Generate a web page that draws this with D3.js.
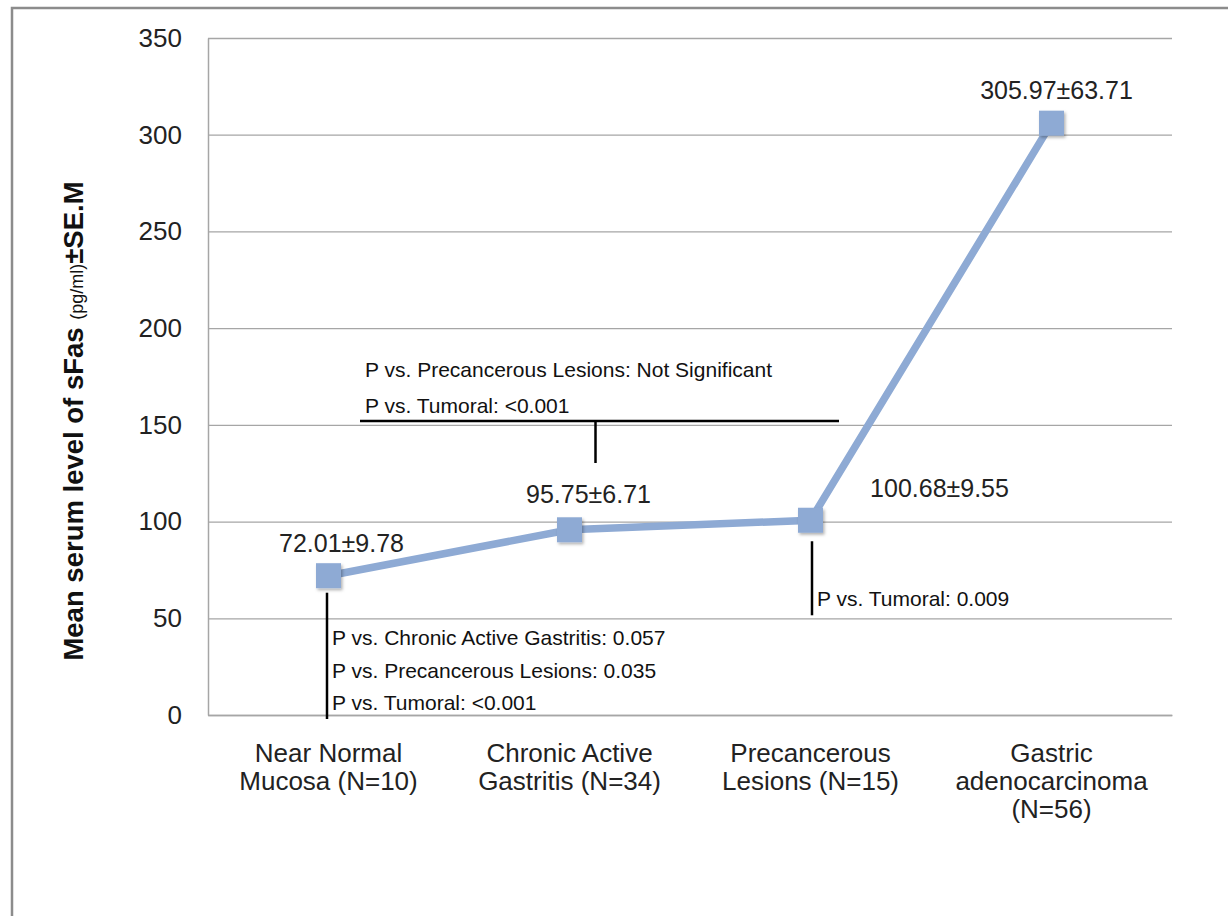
<!DOCTYPE html>
<html>
<head>
<meta charset="utf-8">
<script src="https://cdn.jsdelivr.net/npm/d3@7"></script>
<style>
  body { margin: 0; background: #fff; }
  svg { display: block; font-family: "Liberation Sans", Arial, sans-serif; }
</style>
</head>
<body>
<div id="chart"></div>
<script>
// data
const categories = [
  ["Near Normal", "Mucosa (N=10)"],
  ["Chronic Active", "Gastritis (N=34)"],
  ["Precancerous", "Lesions (N=15)"],
  ["Gastric", "adenocarcinoma", "(N=56)"]
];
const means = [72.01, 95.75, 100.68, 305.97];
const sems = [9.78, 6.71, 9.55, 63.71];
const yTickValues = [0, 50, 100, 150, 200, 250, 300, 350];

const normalNotes = [
  "P vs. Chronic Active Gastritis: 0.057",
  "P vs. Precancerous Lesions: 0.035",
  "P vs. Tumoral: <0.001"
];
const gastritisNotes = [
  "P vs. Precancerous Lesions: Not Significant",
  "P vs. Tumoral: <0.001"
];
const precancerNotes = ["P vs. Tumoral: 0.009"];

const W = 1228, H = 916;
const margin = { top: 38, right: 56, bottom: 201, left: 208 };
const width = W - margin.left - margin.right;
const height = H - margin.top - margin.bottom;
const lineColor = "#8eaad4";
const fontFamily = "'Liberation Sans', Arial, sans-serif";

const svg = d3.select("#chart").append("svg")
  .attr("width", W)
  .attr("height", H);

// outer frame
svg.append("rect")
  .attr("x", 12).attr("y", 8)
  .attr("width", W + 20).attr("height", H + 20)
  .attr("fill", "none")
  .attr("stroke", "#8c8c8c")
  .attr("stroke-width", 2.5);

const defs = svg.append("defs");
const shadow = defs.append("filter").attr("id", "shadow")
  .attr("x", "-30%").attr("y", "-30%").attr("width", "170%").attr("height", "170%");
shadow.append("feDropShadow")
  .attr("dx", 1.5).attr("dy", 2).attr("stdDeviation", 1.5)
  .attr("flood-color", "#000").attr("flood-opacity", 0.3);

const chart = svg.append("g")
  .attr("transform", `translate(${margin.left}, ${margin.top})`);

const xScale = d3.scaleBand()
  .domain(d3.range(categories.length))
  .range([0, width]);
const yScale = d3.scaleLinear()
  .domain([0, 350])
  .range([height, 0]);

// gridlines
chart.append("g")
  .attr("class", "grid")
  .call(d3.axisLeft(yScale).tickValues(yTickValues).tickSize(-width).tickFormat(""))
  .call(g => g.select(".domain").remove())
  .call(g => g.selectAll("line").attr("stroke", "#a6a6a6").attr("stroke-width", 1.3));

// y axis
chart.append("g")
  .attr("class", "axis-y")
  .call(d3.axisLeft(yScale).tickValues(yTickValues).tickSize(0).tickPadding(26).tickFormat(d3.format("d")))
  .call(g => g.select(".domain").attr("stroke", "#a6a6a6").attr("stroke-width", 1.5))
  .call(g => g.selectAll("text").attr("font-size", 26).attr("fill", "#222")
    .attr("font-family", fontFamily));

// x axis
const xAxis = chart.append("g")
  .attr("class", "axis-x")
  .attr("transform", `translate(0, ${height})`)
  .call(d3.axisBottom(xScale).tickSize(0).tickFormat(""))
  .call(g => g.select(".domain").attr("stroke", "#a6a6a6").attr("stroke-width", 1.5));

xAxis.selectAll(".tick").each(function(i) {
  const t = d3.select(this).append("text")
    .attr("text-anchor", "middle")
    .attr("font-size", 26)
    .attr("fill", "#222")
    .attr("font-family", fontFamily);
  categories[i].forEach((line, k) => {
    t.append("tspan").attr("x", 0).attr("y", 47 + k * 28).text(line);
  });
});

// y axis label
const yLabel = svg.append("text")
  .attr("transform", `translate(83, 421) rotate(-90)`)
  .attr("text-anchor", "middle")
  .attr("font-size", 27.5)
  .attr("font-weight", "bold")
  .attr("fill", "#111");
yLabel.append("tspan").text("Mean serum level of sFas ");
yLabel.append("tspan").attr("font-size", 18).attr("font-weight", "normal").text("(pg/ml)");
yLabel.append("tspan").text("±SE.M");

// series line
const cx = i => xScale(i) + xScale.bandwidth() / 2;
const line = d3.line()
  .x((d, i) => cx(i))
  .y(d => yScale(d));

chart.append("path")
  .datum(means)
  .attr("fill", "none")
  .attr("stroke", lineColor)
  .attr("stroke-width", 7.5)
  .attr("d", line);

const markerSize = 25;
chart.selectAll(".marker")
  .data(means)
  .enter()
  .append("rect")
  .attr("class", "marker")
  .attr("x", (d, i) => cx(i) - markerSize / 2)
  .attr("y", d => yScale(d) - markerSize / 2)
  .attr("width", markerSize)
  .attr("height", markerSize)
  .attr("fill", lineColor)
  .attr("filter", "url(#shadow)");

// value labels
const labelOffsets = [[13, -24], [19, -27], [129, -23], [5, -24]];
chart.selectAll(".value-label")
  .data(means)
  .enter()
  .append("text")
  .attr("class", "value-label")
  .attr("text-anchor", "middle")
  .attr("font-size", 25)
  .attr("fill", "#222")
  .attr("x", (d, i) => cx(i) + labelOffsets[i][0])
  .attr("y", (d, i) => yScale(d) + labelOffsets[i][1])
  .text((d, i) => `${d.toFixed(2)}±${sems[i].toFixed(2)}`);

// significance annotations
const notesG = chart.append("g")
  .attr("font-size", 21)
  .attr("fill", "#111");

// near normal
const x0 = cx(0) - 1.5;
notesG.append("line")
  .attr("x1", x0).attr("x2", x0)
  .attr("y1", yScale(means[0]) + 17).attr("y2", height + 4)
  .attr("stroke", "#000").attr("stroke-width", 2.5);
normalNotes.forEach((s, k) => {
  notesG.append("text")
    .attr("x", x0 + 5)
    .attr("y", yScale(0) - 70 + k * 32.5)
    .text(s);
});

// chronic gastritis bracket
const yBracket = yScale(152);
notesG.append("line")
  .attr("x1", xScale(0) + 152).attr("x2", xScale(2) + 149)
  .attr("y1", yBracket).attr("y2", yBracket)
  .attr("stroke", "#000").attr("stroke-width", 2.5);
notesG.append("line")
  .attr("x1", cx(1) + 26).attr("x2", cx(1) + 26)
  .attr("y1", yBracket).attr("y2", yBracket + 42)
  .attr("stroke", "#000").attr("stroke-width", 2.5);
gastritisNotes.forEach((s, k) => {
  notesG.append("text")
    .attr("x", xScale(0) + 157)
    .attr("y", yBracket - 44 + k * 36)
    .text(s);
});

// precancerous
const x2 = cx(2) + 1.5;
notesG.append("line")
  .attr("x1", x2).attr("x2", x2)
  .attr("y1", yScale(means[2]) + 21).attr("y2", yScale(50) - 3)
  .attr("stroke", "#000").attr("stroke-width", 2.5);
precancerNotes.forEach((s, k) => {
  notesG.append("text")
    .attr("x", x2 + 5)
    .attr("y", yScale(50) - 12)
    .text(s);
});
</script>
</body>
</html>
